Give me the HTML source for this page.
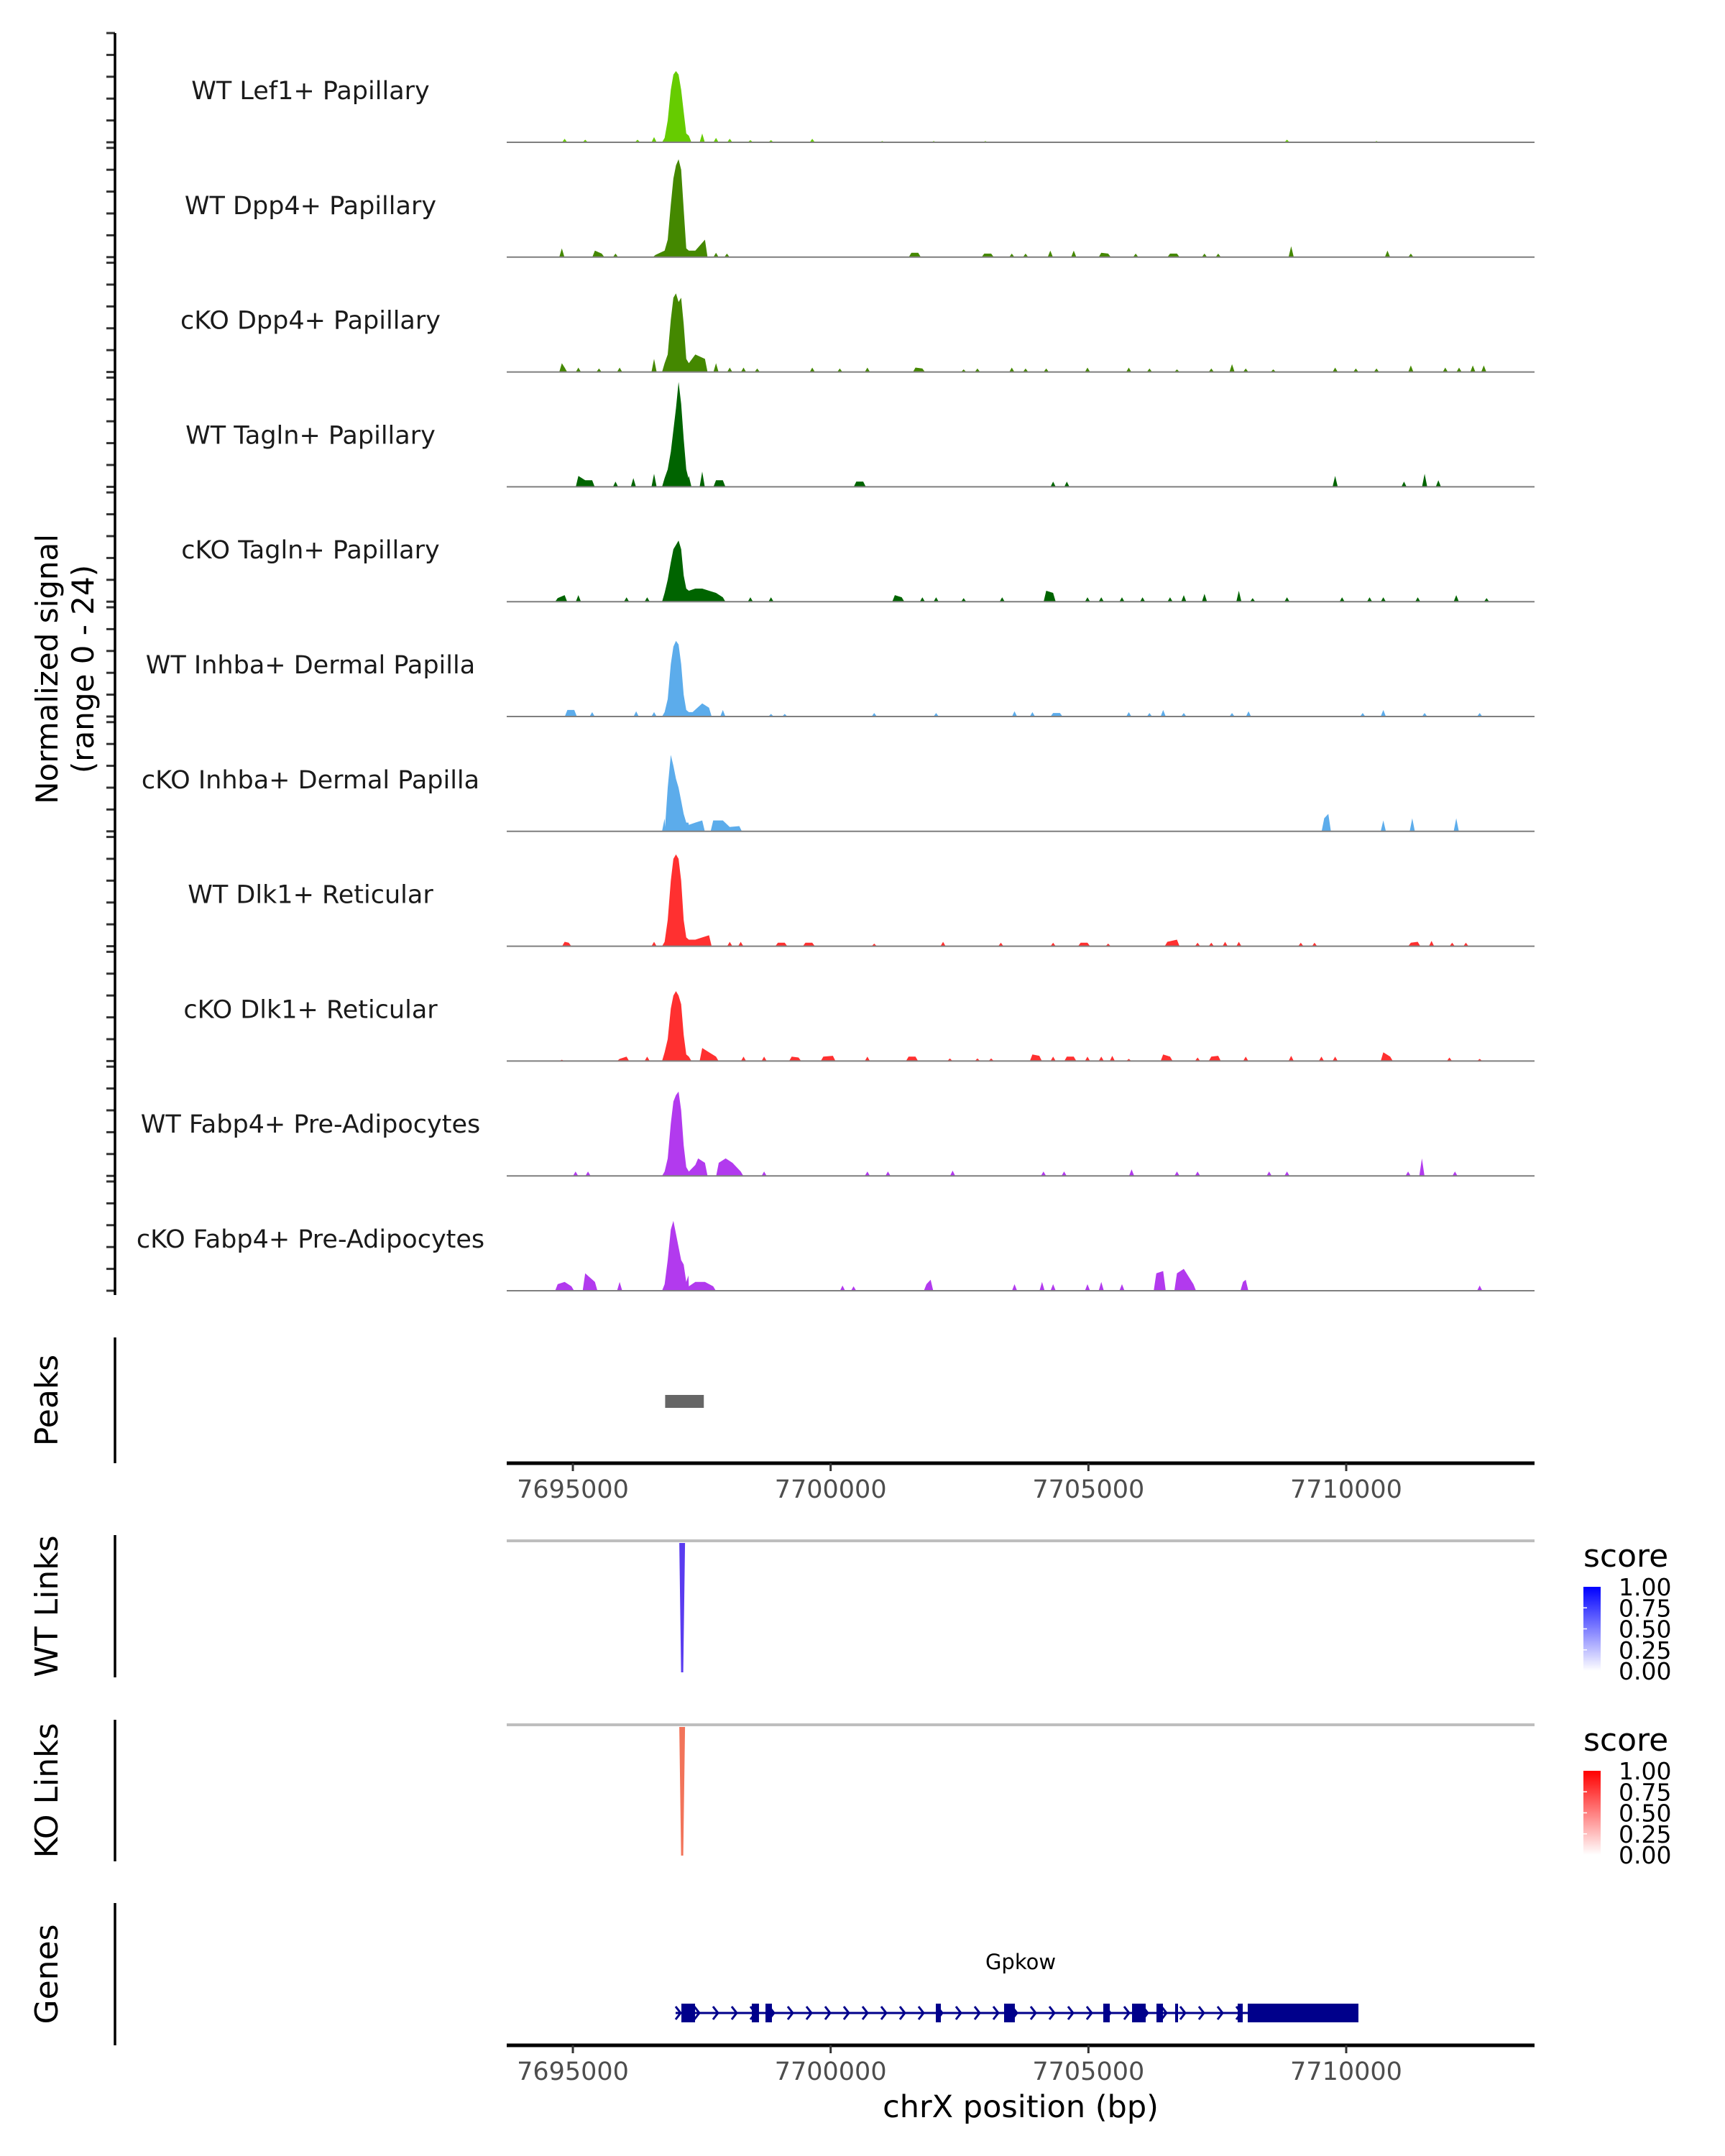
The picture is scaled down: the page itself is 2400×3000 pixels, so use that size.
<!DOCTYPE html>
<html><head><meta charset="utf-8"><style>
html,body{margin:0;padding:0;background:#fff;}
svg{display:block;font-family:"DejaVu Sans","Liberation Sans",sans-serif;}
</style></head><body>
<svg id="chart" width="2400" height="3000" viewBox="0 0 2400 3000">
<defs>
<linearGradient id="gradWT" x1="0" y1="1" x2="0" y2="0"><stop offset="0" stop-color="#ffffff"/><stop offset="1" stop-color="#0000ff"/></linearGradient>
<linearGradient id="gradKO" x1="0" y1="1" x2="0" y2="0"><stop offset="0" stop-color="#ffffff"/><stop offset="1" stop-color="#ff0000"/></linearGradient>
</defs>
<g id="tracks"></g>
<g id="axes"></g>
</svg>
<script>
// ===== data =====
const trackNames = ["WT Lef1+ Papillary","WT Dpp4+ Papillary","cKO Dpp4+ Papillary","WT Tagln+ Papillary","cKO Tagln+ Papillary","WT Inhba+ Dermal Papilla","cKO Inhba+ Dermal Papilla","WT Dlk1+ Reticular","cKO Dlk1+ Reticular","WT Fabp4+ Pre-Adipocytes","cKO Fabp4+ Pre-Adipocytes"];
const trackColors = ["#66cc00","#448800","#448800","#006400","#006400","#5caceb","#5caceb","#ff3030","#ff3030","#b23aee","#b23aee"];
const mainPos = [7696780,7696840,7696900,7696950,7697000,7697050,7697100,7697150,7697200,7697250];
const mainVals = [
 [1,5,12,15.5,16.3,15.5,12,7,2,1.5],
 [1.5,4,12,18,21,22.4,20,11,2,1.5],
 [2,4,12,17,18,16,17,11,3,2],
 [2,4,8,13,18,24,19,11,4,2.5],
 [2,5,9,12,13,14,12,6,3,2.5],
 [1,4,12,16,17.3,16.5,12,5,1.5,1],
 [3,10,17.5,15,12,10,7,4,2,1.5],
 [1,6,15,20,21,20,15,6,2,1.5],
 [2,5,12,15,16,15,13,6,1.5,1],
 [1,4,12,17,18.5,19.3,15,7,2,1],
 [1.5,7,14,16,13,10,7,6,2,1]
];
const bumpPos = [
 [7694840,7695240,7696254,7696575,7697509,7697776,7698043,7698443,7698843,7699644,7701000,7702000,7703000,7708852,7710587],
 [7694786,7695427,7695560,7695827,7696601,7697375,7697562,7697776,7697989,7701566,7701699,7702980,7703114,7703514,7703781,7704261,7704715,7705249,7705383,7705917,7706583,7706717,7707251,7707518,7708932,7710800,7711254],
 [7694786,7694840,7695107,7695507,7695907,7696575,7697375,7697562,7697776,7698043,7698310,7698576,7699644,7700178,7700712,7701646,7701779,7702580,7702847,7703514,7703781,7704181,7704982,7705783,7706184,7706717,7707384,7707785,7708051,7708585,7709786,7710187,7710587,7711254,7711922,7712189,7712456,7712669],
 [7695107,7695240,7695374,7695827,7696174,7696575,7697242,7697509,7697776,7697909,7700498,7700632,7704315,7704582,7709786,7711121,7711521,7711788],
 [7694706,7694840,7695107,7696041,7696441,7697375,7697509,7697642,7697776,7697909,7698443,7698843,7701245,7701379,7701779,7702046,7702580,7703327,7704181,7704315,7704982,7705249,7705650,7706050,7706583,7706850,7707251,7707918,7708185,7708852,7709920,7710453,7710720,7711388,7712135,7712723],
 [7694893,7695027,7695374,7696228,7696575,7697322,7697509,7697642,7697909,7698843,7699110,7700845,7702046,7703567,7703914,7704315,7704448,7705783,7706184,7706450,7706850,7707785,7708105,7710320,7710720,7711521,7712589],
 [7696788,7697242,7697375,7697509,7697722,7697909,7698043,7698229,7709573,7709653,7710720,7711281,7712135],
 [7694840,7694920,7696575,7697375,7697509,7697642,7698043,7698256,7698977,7699110,7699511,7699644,7700845,7702180,7703301,7704315,7704849,7704982,7705383,7706530,7706717,7707117,7707384,7707651,7707918,7709119,7709386,7711254,7711388,7711655,7712055,7712322],
 [7694786,7695907,7696041,7696441,7697509,7697642,7697776,7698310,7698710,7699244,7699377,7699858,7700044,7700712,7701512,7701646,7702313,7702847,7703114,7703914,7704048,7704315,7704582,7704715,7704982,7705249,7705463,7705783,7706450,7706583,7707117,7707384,7707518,7708051,7708932,7709519,7709786,7710720,7710854,7712002,7712589],
 [7695053,7695294,7697375,7697429,7697562,7697829,7697963,7698096,7698256,7698710,7700712,7701112,7702366,7704128,7704528,7705837,7706717,7707117,7708505,7708852,7711201,7711468,7712109],
 [7694706,7694840,7694973,7695240,7695427,7695907,7697242,7697375,7697562,7697722,7700231,7700445,7701859,7701939,7703567,7704101,7704315,7704982,7705249,7705650,7706317,7706450,7706717,7706850,7707037,7707998,7708051,7712589]
];
const bumpVals = [
 [0.8,0.6,0.6,1.2,2,1,0.8,0.5,0.5,0.8,0.3,0.3,0.3,0.6,0.3],
 [2,1.5,0.8,0.8,0.5,1.5,4,1,0.8,1,1,0.8,0.8,0.8,0.8,1.5,1.5,1,0.8,0.8,0.8,0.8,0.8,0.8,2.5,1.5,0.8],
 [2,1,1,0.8,1,3,4,3,2,1,1,0.8,1,0.8,1,1,0.8,0.6,0.8,1,0.8,0.8,1,1,0.8,0.6,0.8,1.8,0.8,0.6,1,0.8,0.8,1.5,1,1,1.5,1.5],
 [2.5,1.5,1.5,1.2,2,3,2,3.5,1.5,1.5,1.2,1.2,1.2,1.2,2.5,1.2,3,1.5],
 [0.8,1.5,1.5,1,1,3,3,2.5,2,1,1,1,1.5,1,1,1,0.8,1,2.5,2,1,1,1,1,1,1.5,1.8,2.5,0.8,1,1,1,1,1,1.5,0.8],
 [1.5,1.5,1,1.2,1,1,3,2,1.5,0.6,0.6,0.8,0.8,1.2,1,0.8,0.8,1,0.8,1.5,0.8,0.8,1.2,0.8,1.5,0.8,0.8],
 [1,2,2,2.5,2.5,2.5,1,1.2,3,4,2.5,3,3],
 [1,0.8,1,1.5,2,2.5,1,1,0.8,0.8,0.8,0.8,0.6,1,0.8,0.8,0.8,0.8,0.6,1,1.5,0.8,0.8,1,1,0.8,0.8,0.8,1,1.2,0.8,0.8],
 [0.3,0.5,1,1,3,2,1,1,1,1,0.8,1,1.2,1,1,1,0.6,0.6,0.6,1.5,1.2,1,1,1,1,1,1.2,0.5,1.5,1,0.8,1,1.2,1,1.2,1,1,2,1,0.8,0.5],
 [1,1,2.5,4,3,3,4,3,1,1,1,1,1.2,1,1,1.5,1,1,1,1,1,4,1],
 [1.5,2,1,4,2,2,3.5,2,2,1,1.2,1,1.5,2.5,1.5,2,1.5,1.5,2,1.5,4,4.5,4,5,1.5,2,2.5,1.2]
];
const xTicks = [7695000,7700000,7705000,7710000];
const yTickVals = [0,5,10,15,20,25];
const peakStart = [7696790];
const peakEnd = [7697540];
const wtLinkPos = [7697120];
const koLinkPos = [7697120];
const legendTicks = [1.00,0.75,0.50,0.25,0.00];
const geneStart = 7696993, geneEnd = 7710237;
const exonStart = [7697105,7698471,7698736,7702040,7703364,7705288,7705846,7706320,7706682,7707895,7708090];
const exonEnd   = [7697370,7698610,7698861,7702138,7703573,7705414,7706111,7706445,7706738,7707993,7710237];

// ===== scales =====
const X0 = 705, X1 = 2135, BP0 = 7693717, PXPERBP = 0.07173;
const x = bp => X0 + (bp - BP0) * PXPERBP;
const BASE0 = 198, STEP = 159.8, UNIT = 6.08;
const NS = "http://www.w3.org/2000/svg";
const svg = document.getElementById('chart');
const tracksG = document.getElementById('tracks');
const axesG = document.getElementById('axes');
function mk(tag, attrs, parent){ const e=document.createElementNS(NS,tag); for(const k in attrs) e.setAttribute(k,attrs[k]); (parent||svg).appendChild(e); return e; }

// ===== signal tracks =====
trackNames.forEach((name,i)=>{
  const base = BASE0 + STEP*i;
  const g = mk('g',{},tracksG);
  
  
  const lbl = mk('text',{x:432,y:base-60,'text-anchor':'middle','font-size':35,fill:'#1a1a1a'},g);
  lbl.textContent = name;
  
  
  let pts = mainPos.map((p,j)=>[p,mainVals[i][j]]).concat(bumpPos[i].map((p,j)=>[p,bumpVals[i][j]]));
  pts.sort((a,b)=>a[0]-b[0]);
  let d = '', run = [];
  const flush = ()=>{ if(!run.length) return;
    d += 'M'+x(run[0][0]-50).toFixed(1)+','+base;
    run.forEach(q=>{ d += 'L'+x(q[0]).toFixed(1)+','+(base-q[1]*UNIT).toFixed(1); });
    d += 'L'+x(run[run.length-1][0]+50).toFixed(1)+','+base+'Z'; run=[]; };
  pts.forEach(q=>{ if(run.length && q[0]-run[run.length-1][0] > 200) flush(); run.push(q); });
  flush();
  const area = mk('path',{d:d,fill:trackColors[i]},g);
  
  
  const bl = mk('line',{x1:X0,x2:X1,y1:base,y2:base,stroke:'#7f7f7f','stroke-width':2},g);
  
  
  yTickVals.forEach(v=>{
    const t = mk('line',{x1:148,x2:160,y1:base-v*UNIT,y2:base-v*UNIT,stroke:'#333','stroke-width':3},axesG);
    
    
  });
});
const yAxis = mk('line',{x1:160,x2:160,y1:BASE0-25*UNIT,y2:BASE0+STEP*10+6,stroke:'#000','stroke-width':3.5},axesG);


const yt = mk('text',{transform:'translate(80,931) rotate(-90)','text-anchor':'middle','font-size':42,fill:'#000'});


yt.textContent='Normalized signal';
const yt2 = mk('text',{transform:'translate(130,931) rotate(-90)','text-anchor':'middle','font-size':42,fill:'#000'});


yt2.textContent='(range 0 - 24)';

// ===== side panel labels & axes =====
function panel(label, y0, y1, name){
  const l = mk('line',{x1:160,x2:160,y1:y0,y2:y1,stroke:'#000','stroke-width':3.5});
  
  
  const t = mk('text',{transform:'translate(80,'+((y0+y1)/2)+') rotate(-90)','text-anchor':'middle','font-size':44,fill:'#000'});
  
  
  t.textContent = label;
}
panel('Peaks',1861,2036,'peaks');
panel('WT Links',2136,2334,'wt-links');
panel('KO Links',2393,2590,'ko-links');
panel('Genes',2648,2846,'genes');

peakStart.forEach((s,i)=>{
  const r = mk('rect',{x:x(s),y:1941,width:x(peakEnd[i])-x(s),height:18,fill:'#666'});
  
  
});

function xAxis(y, withTitle){
  const l = mk('line',{x1:X0,x2:X1,y1:y,y2:y,stroke:'#000','stroke-width':5});
  
  
  xTicks.forEach(v=>{
    const t = mk('line',{x1:x(v),x2:x(v),y1:y,y2:y+11,stroke:'#333','stroke-width':3});
    
    
    const tl = mk('text',{x:x(v),y:y+48,'text-anchor':'middle','font-size':35,fill:'#4d4d4d'});
    
    
    tl.textContent = v;
  });
  if(withTitle){
    const tt = mk('text',{x:1420,y:y+100,'text-anchor':'middle','font-size':43,fill:'#000'});
    
    
    tt.textContent='chrX position (bp)';
  }
}
xAxis(2036,false);
xAxis(2846,true);

function links(top, bottom, pos, col, grad, name){
  const gl = mk('line',{x1:X0,x2:X1,y1:top,y2:top,stroke:'#bebebe','stroke-width':4});
  
  
  pos.forEach(p=>{
    const lk = mk('path',{d:'M'+(x(p)-4)+','+(top+3)+'L'+(x(p)+4)+','+(top+3)+'L'+(x(p)+1.5)+','+bottom+'L'+(x(p)-1.5)+','+bottom+'Z',fill:col});
    
    
  });
  const ly = top - 2144;
  const st = mk('text',{x:2203,y:2180+ly,'font-size':44,fill:'#000'});
  
  
  st.textContent='score';
  const bar = mk('rect',{x:2203,y:2208+ly,width:24,height:117,fill:'url(#'+grad+')'});
  
  
  legendTicks.forEach(v=>{
    const yy = 2325+ly - v*117;
    if(v>0 && v<1){
      const tk = mk('line',{x1:2203,x2:2208,y1:yy,y2:yy,stroke:'#fff','stroke-width':1.5});
      
      
    }
    const tl = mk('text',{x:2252,y:yy+12,'font-size':33,fill:'#000'});
    
    
    tl.textContent = v.toFixed(2);
  });
}
links(2144,2327,wtLinkPos,'#5a3cf0','gradWT','wt-links');
links(2400,2582,koLinkPos,'#f2745a','gradKO','ko-links');

const GY = 2801, GC = '#00008b';
const gn = mk('text',{x:1420,y:2740,'text-anchor':'middle','font-size':29,fill:'#000'});


gn.textContent='Gpkow';
const gline = mk('line',{x1:x(geneStart),x2:x(geneEnd),y1:GY,y2:GY,stroke:GC,'stroke-width':3});


for(let cx = x(geneStart)+4; cx < x(exonStart[exonStart.length-1]); cx += 26){
  const ch = mk('polyline',{points:(cx-4)+','+(GY-9)+' '+(cx+3)+','+GY+' '+(cx-4)+','+(GY+9),fill:'none',stroke:GC,'stroke-width':3});
  
  
}
exonStart.forEach((s,i)=>{
  const r = mk('rect',{x:x(s),y:GY-13,width:Math.max(3,x(exonEnd[i])-x(s)),height:26,fill:GC});
  
  
});
</script>
</body></html>
